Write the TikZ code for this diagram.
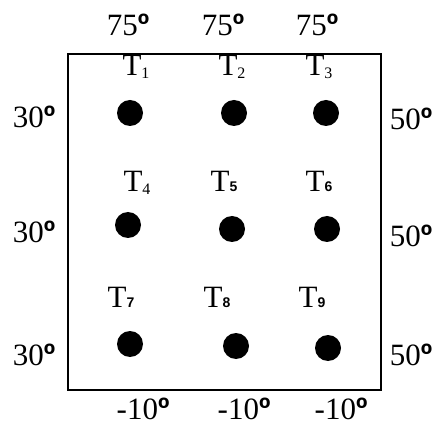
\documentclass[tikz,border=0pt]{standalone}
\usepackage{fontspec}
\setmainfont{Liberation Serif}
\setsansfont{Liberation Sans}
\usepackage{tikz}

\newcommand{\dg}{{\sffamily\bfseries º}}
\newcommand{\subser}[1]{\raisebox{-3pt}{\fontsize{16}{16}\selectfont #1}}
\newcommand{\subsan}[1]{{\fontsize{14}{14}\selectfont\sffamily\bfseries #1}}

\begin{document}
\begin{tikzpicture}[x=1pt,y=-1pt,
		dot/.style={circle,fill=black,inner sep=0pt,minimum size=26pt},
		lbl/.style={anchor=base,inner sep=0pt,font=\fontsize{31}{31}\selectfont}]
				\useasboundingbox (0,0) rectangle (436,427);
				\draw[line width=1.5pt] (68,54) rectangle (381,390);
				% points
				\node[dot] (d1) at (130,113){};
				\node[dot] (d2) at (234,113){};
				\node[dot] (d3) at (326,113){};
				\node[dot] (d4) at (128,225){};
				\node[dot] (d5) at (232,229){};
				\node[dot] (d6) at (327,229){};
				\node[dot] (d7) at (130,344){};
				\node[dot] (d8) at (236,346){};
				\node[dot] (d9) at (328,348){};
				% names
				\node[lbl] (t1) at (136,76){T\subser{1}};
				\node[lbl] (t2) at (232,76){T\subser{2}};
				\node[lbl] (t3) at (319,76){T\subser{3}};
				\node[lbl] (t4) at (137,192){T\subser{4}};
				\node[lbl] (t5) at (224,192){T\subsan{5}};
				\node[lbl] (t6) at (319,192){T\subsan{6}};
				\node[lbl] (t7) at (121,308){T\subsan{7}};
				\node[lbl] (t8) at (217,308){T\subsan{8}};
				\node[lbl] (t9) at (312,308){T\subsan{9}};
				% boundary values
				\node[lbl] (top1) at (128,36){75\dg};
				\node[lbl] (top2) at (223,36){75\dg};
				\node[lbl] (top3) at (317,36){75\dg};
				\node[lbl] (left1) at (34,128){30\dg};
				\node[lbl] (left2) at (34,243){30\dg};
				\node[lbl] (left3) at (34,365){30\dg};
				\node[lbl] (right1) at (411,130){50\dg};
				\node[lbl] (right2) at (411,247){50\dg};
				\node[lbl] (right3) at (411,365){50\dg};
				\node[lbl] (bot1) at (143,419){-10\dg};
				\node[lbl] (bot2) at (244,419){-10\dg};
				\node[lbl] (bot3) at (341,419){-10\dg};
			\end{tikzpicture}
\end{document}
